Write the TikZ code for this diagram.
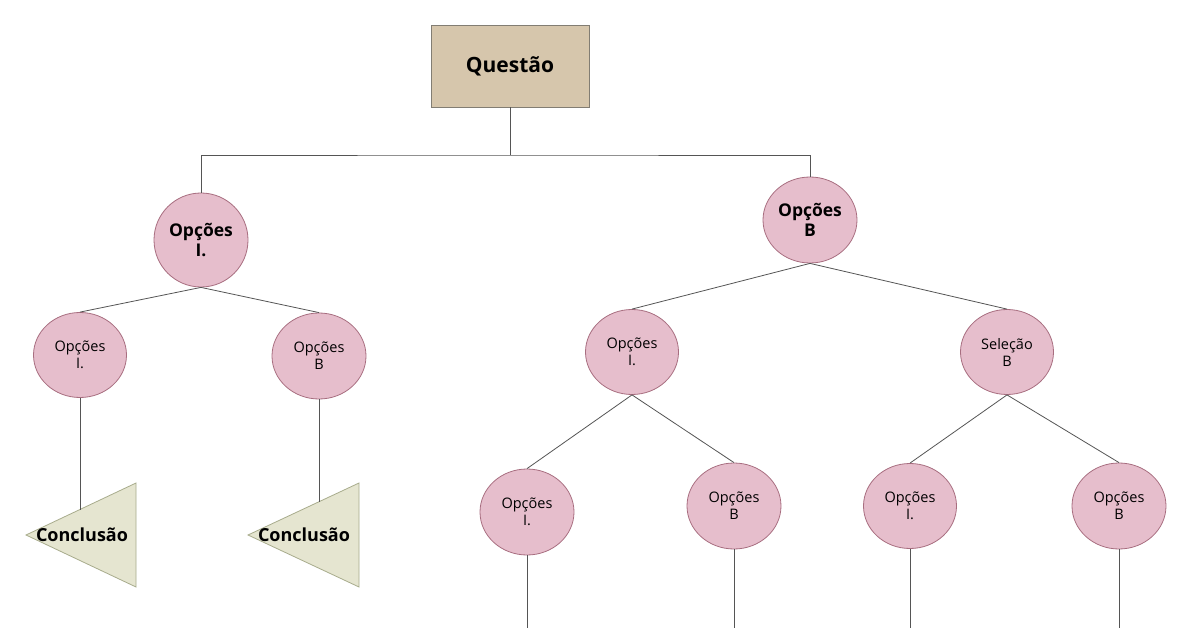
\documentclass[tikz,border=0pt]{standalone}
\usepackage{fontspec}
\setmainfont{Open Sans}
\definecolor{boxfill}{RGB}{214,198,172}
\definecolor{boxline}{RGB}{130,125,115}
\definecolor{circfill}{RGB}{230,190,204}
\definecolor{circline}{RGB}{168,110,128}
\definecolor{trifill}{RGB}{229,229,208}
\definecolor{triline}{RGB}{168,172,140}
\definecolor{conn}{RGB}{85,85,85}
\tikzset{
  qbox/.style={draw=boxline, fill=boxfill, line width=0.8pt, minimum width=158pt, minimum height=82pt, inner sep=0pt, font=\fontsize{21}{24}\selectfont\bfseries},
  bigcirc/.style={ellipse, draw=circline, fill=circfill, line width=0.8pt, inner sep=0pt, align=center, font=\fontsize{17.5}{20}\selectfont\bfseries},
  smallcirc/.style={ellipse, draw=circline, fill=circfill, line width=0.8pt, inner sep=0pt, align=center, font=\fontsize{14.5}{17}\selectfont},
  tri/.style={draw=triline, fill=trifill, line width=0.8pt},
  concl/.style={font=\fontsize{18}{21}\selectfont\bfseries, inner sep=0pt},
  link/.style={draw=conn, line width=0.8pt}
}
\usetikzlibrary{shapes.geometric}
\begin{document}
\begin{tikzpicture}[x=1pt,y=-1pt]
\useasboundingbox (0,0) rectangle (1200,628);
\fill[white] (0,0) rectangle (1200,628);

\node[qbox] (q) at (510,66) {Questão};

\node[bigcirc, minimum width=94pt, minimum height=94pt] (l1a) at (201,240) {Opções\\I.};
\node[bigcirc, minimum width=94pt, minimum height=86pt] (l1b) at (810,220) {Opções\\B};

\node[smallcirc, minimum width=93pt, minimum height=85pt] (l2a) at (80,355) {Opções\\I.};
\node[smallcirc, minimum width=94pt, minimum height=86pt] (l2b) at (319,356) {Opções\\B};
\node[smallcirc, minimum width=93pt, minimum height=85pt] (l2c) at (632,352) {Opções\\I.};
\node[smallcirc, minimum width=93pt, minimum height=85pt] (l2d) at (1007,352) {Seleção\\B};

\node[smallcirc, minimum width=94pt, minimum height=86pt] (l3a) at (527,512) {Opções\\I.};
\node[smallcirc, minimum width=94pt, minimum height=86pt] (l3b) at (734,506) {Opções\\B};
\node[smallcirc, minimum width=93pt, minimum height=85pt] (l3c) at (910,506) {Opções\\I.};
\node[smallcirc, minimum width=94pt, minimum height=86pt] (l3d) at (1119,506) {Opções\\B};

% triangles
\draw[tri] (26,535) -- (136,483) -- (136,587) -- cycle;
\draw[tri] (248,535) -- (359,483) -- (359,587) -- cycle;
\node[concl] (c1) at (82,535) {Conclusão};
\node[concl] (c2) at (304,535) {Conclusão};
\coordinate (t1) at (80,509.5);
\coordinate (t2) at (319,501.5);

% junction
\coordinate (j) at (510,155);
\draw[link] (q.south) -- (j);
\draw[link] (l1a.north) |- (j) -| (l1b.north);

\draw[link] (l1a.south) -- (l2a.north);
\draw[link] (l1a.south) -- (l2b.north);
\draw[link] (l1b.south) -- (l2c.north);
\draw[link] (l1b.south) -- (l2d.north);

\draw[link] (l2c.south) -- (l3a.north);
\draw[link] (l2c.south) -- (l3b.north);
\draw[link] (l2d.south) -- (l3c.north);
\draw[link] (l2d.south) -- (l3d.north);

\draw[link] (l2a.south) -- (t1);
\draw[link] (l2b.south) -- (t2);

\coordinate (e1) at (527,628);
\coordinate (e2) at (734,628);
\coordinate (e3) at (910,628);
\coordinate (e4) at (1119,628);
\draw[link] (l3a.south) -- (e1);
\draw[link] (l3b.south) -- (e2);
\draw[link] (l3c.south) -- (e3);
\draw[link] (l3d.south) -- (e4);
\end{tikzpicture}
\end{document}
